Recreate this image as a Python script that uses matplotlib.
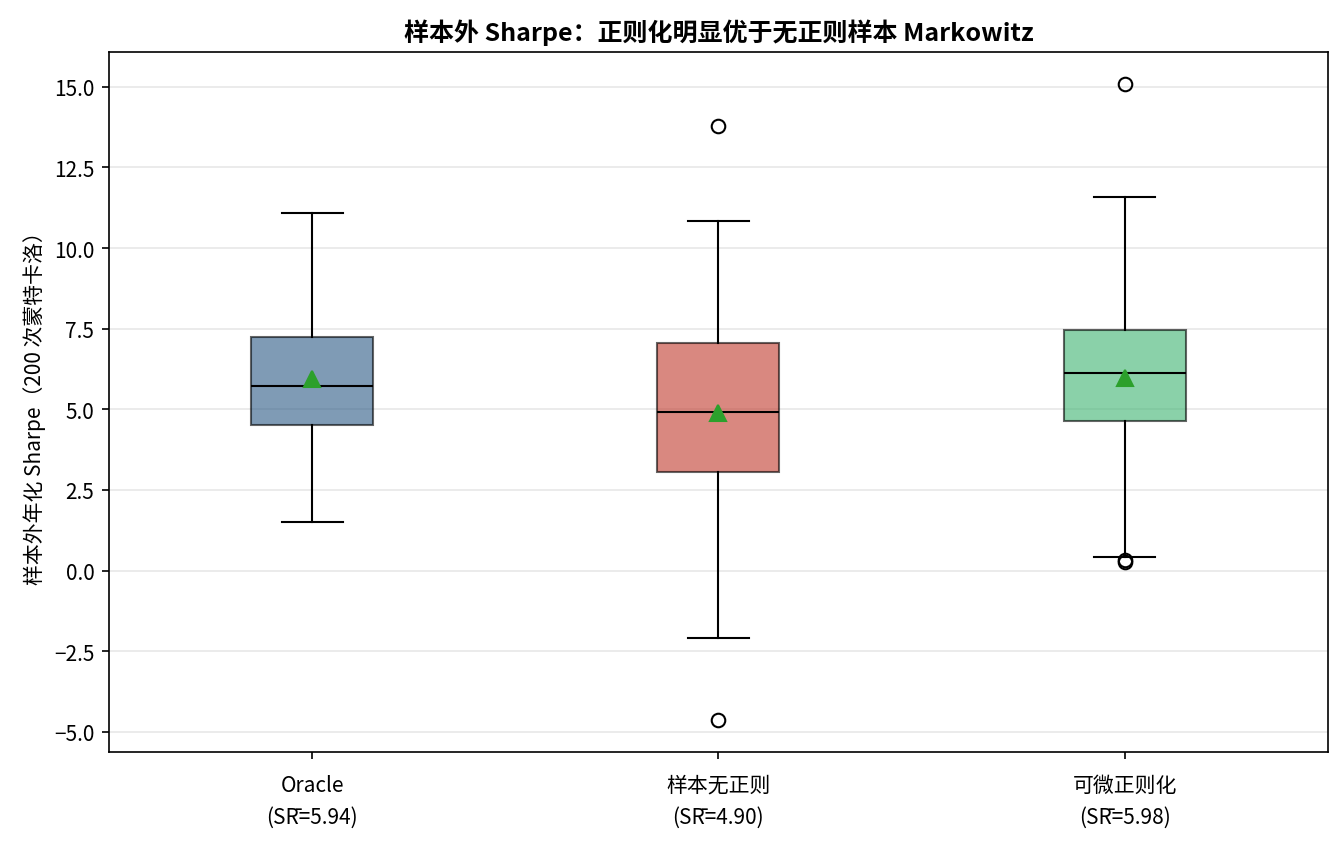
import matplotlib.pyplot as plt

plt.rcParams['font.family'] = ['Noto Sans CJK SC', 'DejaVu Sans']

# 箱线图统计量
names = ["Oracle", "样本无正则", "可微正则化"]
means = [5.94, 4.90, 5.98]
medians = [5.73, 4.93, 6.13]
q1 = [4.52, 3.05, 4.64]
q3 = [7.25, 7.06, 7.46]
whislo = [1.51, -2.09, 0.43]
whishi = [11.09, 10.84, 11.57]
fliers = [[], [13.78, -4.64], [15.08, 0.33, 0.26]]
colors = ["#2a5884", "#c0392b", "#3cb371"]

stats = []
for i in range(len(names)):
    stats.append({
        "label": f"{names[i]}\n(SR\u0304={means[i]:.2f})",
        "mean": means[i], "med": medians[i],
        "q1": q1[i], "q3": q3[i],
        "whislo": whislo[i], "whishi": whishi[i],
        "fliers": fliers[i],
    })

fig, ax = plt.subplots(figsize=(8.96, 5.653), dpi=150)
bp = ax.bxp(stats, widths=0.3, showmeans=True, patch_artist=True,
            medianprops=dict(color="black"),
            meanprops=dict(marker="^", markerfacecolor="#2ca02c",
                           markeredgecolor="#2ca02c", markersize=7.5),
            flierprops=dict(marker="o", markerfacecolor="none",
                            markeredgecolor="black", markersize=6.5))
for patch, c in zip(bp["boxes"], colors):
    patch.set_facecolor(c)
    patch.set_alpha(0.6)

for lbl in ax.get_xticklabels():
    lbl.set_linespacing(1.6)
ax.tick_params(axis="x", pad=7)

ax.set_ylabel("样本外年化 Sharpe（200 次蒙特卡洛）")
ax.set_title("样本外 Sharpe：正则化明显优于无正则样本 Markowitz", fontweight="bold")
ax.grid(axis="y", alpha=0.3)
ax.set_axisbelow(True)

plt.subplots_adjust(left=0.081, right=0.988, top=0.937, bottom=0.112)
plt.savefig("out.png", dpi=150)
